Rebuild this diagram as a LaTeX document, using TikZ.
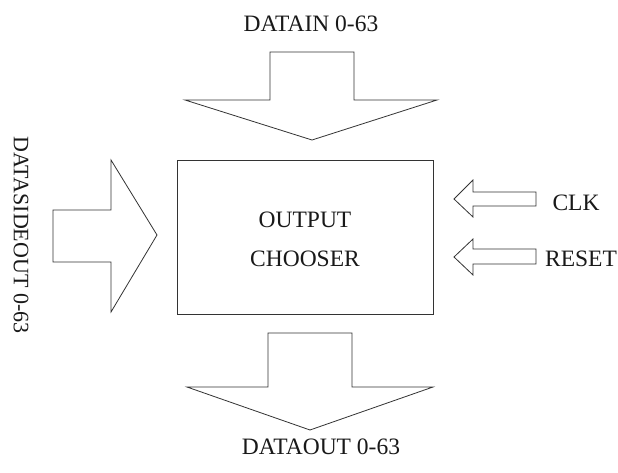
\documentclass[tikz,border=0pt]{standalone}
\usepackage{fontspec}
\setmainfont{Liberation Serif}
\begin{document}
\begin{tikzpicture}[x=1pt,y=-1pt,
  outline/.style={draw=black!80,line width=0.8pt,line join=miter},
  lbl/.style={inner sep=0pt,font=\fontsize{23.5}{28}\selectfont,text=black!90}]
\useasboundingbox (0,0) rectangle (618,473);
\fill[white] (0,0) rectangle (618,473);

% central block
\node[outline,minimum width=256pt,minimum height=154pt,anchor=north west,inner sep=0pt] (chooser) at (177,160) {};
\node[lbl] (l1) at (305,220) {OUTPUT};
\node[lbl] (l2) at (305,259) {CHOOSER};

% data input from above
\draw[outline] (270,52) -- (354,52) -- (354,100) -- (437,100) -- (312,140)
  -- (185,100) -- (270,100) -- cycle;
\node[lbl] (din) at (311,24) {DATAIN 0-63};

% side data output, left
\draw[outline] (53,210) -- (111,210) -- (111,160) -- (157,235) -- (111,312)
  -- (111,262) -- (53,262) -- cycle;
\node[lbl,rotate=-90,font=\fontsize{22}{26}\selectfont] (dside) at (21,235) {DATASIDEOUT 0-63};

% clock and reset inputs
\draw[outline] (536,192) -- (473,192) -- (473,180) -- (454,199) -- (473,217)
  -- (473,206) -- (536,206) -- cycle;
\node[lbl] (clk) at (576,203) {CLK};
\draw[outline] (536,249) -- (473,249) -- (473,239) -- (454,257) -- (473,275)
  -- (473,264) -- (536,264) -- cycle;
\node[lbl] (rst) at (581,259) {RESET};

% data output below
\draw[outline] (268,333) -- (352,333) -- (352,387) -- (433,387) -- (310,430)
  -- (187,387) -- (268,387) -- cycle;
\node[lbl] (dout) at (321,447) {DATAOUT 0-63};
\end{tikzpicture}
\end{document}
